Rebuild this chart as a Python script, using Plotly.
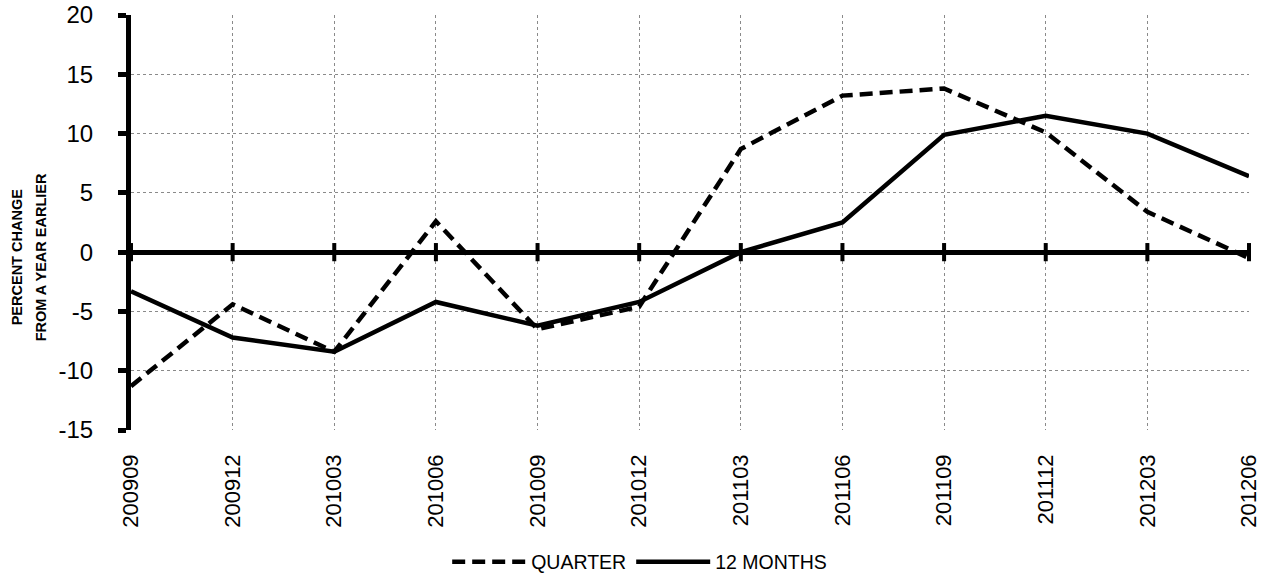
import plotly.graph_objects as go

categories = ["200909", "200912", "201003", "201006", "201009", "201012",
              "201103", "201106", "201109", "201112", "201203", "201206"]
quarter = [-11.3, -4.4, -8.4, 2.6, -6.5, -4.6, 8.7, 13.2, 13.8, 10.1, 3.4, -0.5]
twelve_months = [-3.3, -7.2, -8.4, -4.2, -6.2, -4.2, 0.0, 2.5, 9.9, 11.5, 10.0, 6.4]
y_ticks = [-15, -10, -5, 0, 5, 10, 15, 20]
y_tick_labels = ["-15", "-10", "-5", "0", "5", "10", "15", "20"]

FONT = "Arial, Liberation Sans, sans-serif"

fig = go.Figure()
fig.add_trace(go.Scatter(x=categories, y=quarter, mode="lines", name="QUARTER",
                         line=dict(color="black", width=4.5, dash="13px,7px"),
                         cliponaxis=False))
fig.add_trace(go.Scatter(x=categories, y=twelve_months, mode="lines", name="12 MONTHS",
                         line=dict(color="black", width=4.5),
                         cliponaxis=False))
# crossing tick marks on the category axis drawn at zero
fig.add_trace(go.Scatter(x=categories, y=[0] * len(categories), mode="markers",
                         showlegend=False, hoverinfo="skip", cliponaxis=False,
                         marker=dict(symbol="line-ns", size=13,
                                     line=dict(color="black", width=4))))

fig.update_layout(
    width=1269, height=576,
    margin=dict(l=131, r=20, t=15, b=146, autoexpand=False),
    plot_bgcolor="white", paper_bgcolor="white",
    font=dict(family=FONT, color="black"),
    showlegend=True,
    legend=dict(orientation="h", x=0.455, xanchor="center", y=-0.318, yanchor="middle",
                font=dict(size=19.5, family=FONT), itemwidth=74, tracegroupgap=0),
    annotations=[
        dict(text="<b>PERCENT CHANGE</b>", xref="paper", yref="paper",
             x=-0.102, y=0.416, xanchor="center", yanchor="middle", textangle=-90,
             showarrow=False, font=dict(size=14.5, family=FONT)),
        dict(text="<b>FROM A YEAR EARLIER</b>", xref="paper", yref="paper",
             x=-0.0805, y=0.416, xanchor="center", yanchor="middle", textangle=-90,
             showarrow=False, font=dict(size=14.5, family=FONT)),
    ],
)
fig.update_xaxes(
    type="category", categoryorder="array", categoryarray=categories,
    range=[0, len(categories) - 1], automargin=False,
    showgrid=True, gridcolor="#8a8a8a", griddash="dot", gridwidth=1,
    showline=False, ticks="", tickangle=-90,
    tickfont=dict(size=22, family=FONT), ticklabelstandoff=19,
    ticklabeloverflow="allow",
    zeroline=False,
)
fig.update_yaxes(
    range=[-15, 20], tickvals=y_ticks, ticktext=y_tick_labels, automargin=False,
    showgrid=True, gridcolor="#8a8a8a", griddash="dot", gridwidth=1,
    showline=True, linecolor="black", linewidth=5,
    ticks="outside", ticklen=8, tickwidth=5, tickcolor="black",
    tickfont=dict(size=24, family=FONT), ticklabelstandoff=20,
    ticklabeloverflow="allow",
    zeroline=True, zerolinecolor="black", zerolinewidth=5,
)

fig.write_html("out.html", config={"displayModeBar": False},
               post_script="document.body.style.margin='0';")
